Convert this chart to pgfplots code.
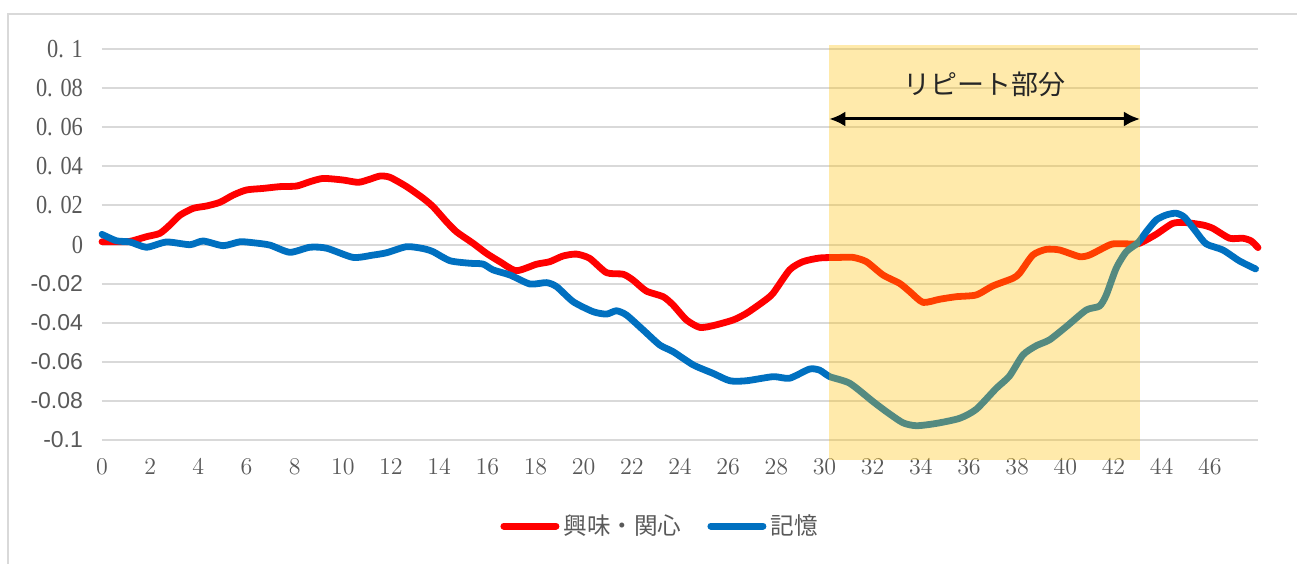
\documentclass[border=0pt]{standalone}
\usepackage{fontspec}
\usepackage{pgfplots}
\pgfplotsset{compat=1.18}
\usetikzlibrary{arrows.meta}
\setmainfont{Liberation Serif}
\newfontfamily\nserif[FakeStretch=0.86]{Liberation Serif}
\newfontfamily\jp{Noto Sans CJK JP}
\newfontfamily\arial{Liberation Sans}
\definecolor{lbl}{HTML}{595959}
\definecolor{gridc}{HTML}{D9D9D9}
\definecolor{sred}{HTML}{FF0000}
\definecolor{sblue}{HTML}{0070C0}
\definecolor{gold}{HTML}{FFC000}
\newcommand{\plab}[1]{\nserif\fontsize{13}{15}\selectfont 0.\hspace{0.3em}#1}
\newcommand{\nlab}[1]{\arial\fontsize{11.5}{13}\selectfont #1}
\begin{document}
\begin{tikzpicture}
\useasboundingbox (-51pt,-61.5pt) rectangle (597.5pt,220pt);
\draw[gridc, line width=0.6pt] (-47pt,-64pt) rectangle (600pt,213pt);
\begin{axis}[
  at={(0,0)}, anchor=south west,
  scale only axis, width=578pt, height=195.5pt,
  xmin=0, xmax=48, ymin=-0.1, ymax=0.1,
  clip=false,
  xtick={0,2,...,46},
  ytick={-0.1,-0.08,-0.06,-0.04,-0.02,0,0.02,0.04,0.06,0.08,0.1},
  yticklabels={{\nlab{-0.1}},{\nlab{-0.08}},{\nlab{-0.06}},{\nlab{-0.04}},{\nlab{-0.02}},{\nserif\fontsize{13}{15}\selectfont 0},{\plab{02}},{\plab{04}},{\plab{06}},{\plab{08}},{\plab{1}}},
  ymajorgrids, grid style={gridc, line width=1pt},
  axis line style={draw=none}, major tick length=0pt,
  tick label style={text=lbl},
  xticklabel style={font=\nserif\fontsize{11.5}{13}\selectfont, yshift=-6pt},
  yticklabel style={xshift=-6pt},
  legend style={at={(rel axis cs:0.4836,-0.22)}, anchor=center, draw=none, fill=none,
    font=\jp\fontsize{11.8}{13}\selectfont, text=lbl, legend columns=2,
    /tikz/every even column/.append style={column sep=11pt}},
  legend image code/.code={\draw[#1, line width=3.5pt, line cap=round] (0pt,0pt) -- (26pt,0pt);},
]
\addplot[sred, line width=3.4pt, line join=round, line cap=round, smooth, tension=0.4] coordinates {
(0,0.0014)(0.6,0.0014)(1.16,0.0016)(1.85,0.004)(2.4,0.0057)(2.82,0.010)(3.24,0.015)(3.79,0.0185)(4.34,0.0197)(4.9,0.0216)(5.45,0.0253)(6.0,0.0279)(6.7,0.0287)(7.39,0.0296)(8.08,0.0299)(8.63,0.0321)(9.18,0.0338)(10.0,0.033)(10.64,0.0318)(11.1,0.0333)(11.54,0.035)(11.95,0.0344)(12.65,0.0296)(13.34,0.0236)(13.75,0.0193)(14.3,0.0117)(14.72,0.0065)(15.41,0.0006)(15.96,-0.0045)(16.52,-0.0088)(17.2,-0.0134)(18.04,-0.0101)(18.59,-0.0088)(19.14,-0.0059)(19.7,-0.0049)(20.25,-0.0071)(20.95,-0.0144)(21.64,-0.0152)(22.05,-0.0182)(22.6,-0.0238)(23.3,-0.0267)(23.71,-0.0309)(24.27,-0.0386)(24.82,-0.0424)(25.37,-0.0415)(26.21,-0.0386)(26.76,-0.0352)(27.45,-0.0293)(27.86,-0.025)(28.55,-0.013)(29.1,-0.0088)(29.8,-0.0069)(30.63,-0.0066)(31.19,-0.0066)(31.74,-0.0088)(32.43,-0.0156)(33.12,-0.0199)(33.54,-0.0241)(34.09,-0.0296)(34.78,-0.028)(35.47,-0.0267)(36.3,-0.0258)(36.99,-0.0212)(37.82,-0.0173)(38.1,-0.0147)(38.65,-0.0054)(39.2,-0.0025)(39.76,-0.0028)(40.59,-0.0062)(41.0,-0.0054)(41.56,-0.0019)(41.97,0.0003)(42.67,0.0003)(43.08,0.0006)(43.77,0.0052)(44.46,0.0108)(45.01,0.0112)(45.7,0.010)(46.12,0.0083)(46.82,0.0032)(47.37,0.0032)(47.72,0.0018)(48.0,-0.0016)
};
\addlegendentry{興味・関心}
\addplot[sblue, line width=3.4pt, line join=round, line cap=round, smooth, tension=0.4] coordinates {
(0,0.0052)(0.6,0.0019)(1.16,0.0013)(1.85,-0.0014)(2.68,0.0013)(3.65,-0.0001)(4.2,0.0018)(5.03,-0.0006)(5.73,0.0014)(6.28,0.0009)(6.97,-0.0003)(7.8,-0.004)(8.63,-0.0014)(9.33,-0.0019)(10.43,-0.0066)(11.26,-0.0054)(11.82,-0.0042)(12.65,-0.0011)(13.34,-0.0021)(13.75,-0.0037)(14.45,-0.0083)(15.28,-0.0096)(15.82,-0.0100)(16.24,-0.013)(16.94,-0.0156)(17.77,-0.0202)(18.46,-0.0195)(18.88,-0.0216)(19.57,-0.0293)(20.4,-0.0344)(20.95,-0.0356)(21.36,-0.0339)(21.78,-0.0361)(22.47,-0.0437)(23.16,-0.0514)(23.71,-0.0548)(24.55,-0.0616)(25.37,-0.0659)(26.07,-0.0697)(26.76,-0.0697)(27.87,-0.0676)(28.55,-0.0684)(29.38,-0.0637)(29.8,-0.0643)(30.22,-0.0676)(31.05,-0.071)(32.02,-0.0804)(32.57,-0.0855)(33.26,-0.0912)(33.82,-0.0927)(34.65,-0.0915)(35.61,-0.0889)(36.3,-0.0843)(37.13,-0.0736)(37.68,-0.0673)(38.24,-0.0565)(38.79,-0.0518)(39.34,-0.0488)(40.04,-0.042)(40.87,-0.0335)(41.42,-0.0315)(41.7,-0.0258)(42.11,-0.0122)(42.53,-0.0037)(43.02,0.0009)(43.36,0.0065)(43.77,0.0125)(44.19,0.0151)(44.6,0.016)(44.95,0.0139)(45.43,0.0065)(45.85,0.0003)(46.54,-0.0028)(47.23,-0.0084)(47.9,-0.0125)
};
\addlegendentry{記憶}
\fill[gold, fill opacity=0.33] (axis cs:30.2,-0.110) rectangle (axis cs:43.1,0.102);
\draw[black, line width=1.5pt, {Latex[length=8pt,width=7.5pt]}-{Latex[length=8pt,width=7.5pt]}] (axis cs:30.2,0.0642) -- (axis cs:43.1,0.0642);
\node[font=\jp\fontsize{13.5}{16}\selectfont, text=black!85] at (axis cs:36.65,0.0821) {リピート部分};
\end{axis}
\end{tikzpicture}
\end{document}
